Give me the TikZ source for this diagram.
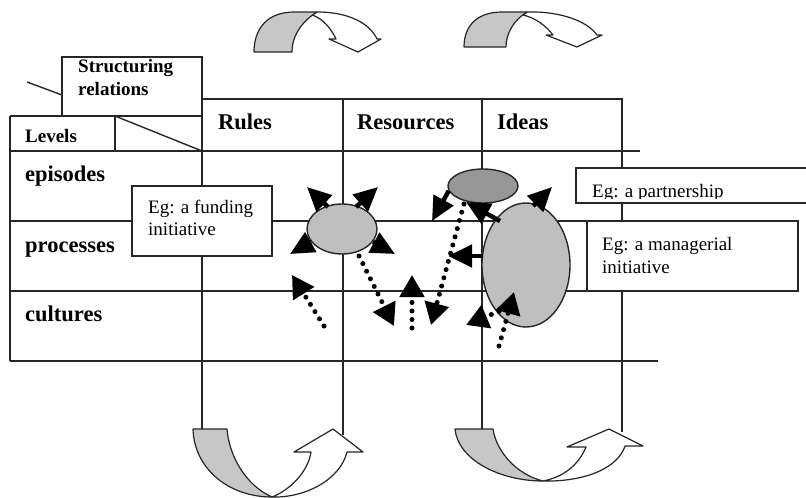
\documentclass[tikz,border=0pt]{standalone}
\usepackage{fontspec}
\setmainfont{Liberation Serif}
\usetikzlibrary{arrows.meta,shapes.geometric}

\begin{document}
\begin{tikzpicture}[x=1pt,y=-1pt,
  grid/.style={line width=1.4pt, draw=black!85},
  hdr/.style={font=\fontsize{22.5}{27}\selectfont\bfseries, anchor=base west, inner sep=0pt},
  lbl/.style={font=\fontsize{19}{23}\selectfont\bfseries, anchor=base west, inner sep=0pt},
  egtext/.style={font=\fontsize{19}{23}\selectfont, anchor=base west, inner sep=0pt},
  egbox/.style={draw=black!85, line width=1.4pt, fill=white, rectangle, inner sep=0pt},
  blob/.style={ellipse, draw=black!85, line width=1.4pt, inner sep=0pt},
  push/.style={line width=4.5pt, -{Triangle[length=24pt,width=22pt]}},
  drift/.style={line width=5pt, dash pattern=on 0pt off 8.5pt, line cap=round,
                -{Triangle[length=22pt,width=24pt]}},
  backband/.style={draw=black!85, line width=1.2pt, fill=black!22, line join=round},
  frontband/.style={draw=black!85, line width=1.2pt, fill=white, line join=round},
]
\useasboundingbox (0,0) rectangle (806,498);
\clip (0,0) rectangle (806,498);

% ---- table frame ----
\draw[grid] (27,82) -- (62,95);
\draw[grid] (62,116) -- (62,57) -- (202,57) -- (202,429);
\draw[grid] (10,116) -- (202,116);
\draw[grid] (10,116) -- (10,361);
\draw[grid] (115,116) -- (115,151);
\draw[grid] (115,116) -- (202,151);
\draw[grid] (202,99) -- (622,99) -- (622,432);
\draw[grid] (343,99) -- (343,435);
\draw[grid] (482,99) -- (482,429);
\draw[grid] (10,151) -- (640,151);
\draw[grid] (10,221) -- (640,221);
\draw[grid] (10,291) -- (640,291);
\draw[grid] (10,361) -- (658,361);

% ---- curved arrows above the columns ----
\draw[frontband] (317,12) .. controls (350,12) and (370,24) .. (377,39) -- (381,39)
  -- (358,52) -- (329,39) -- (336,39) .. controls (331,28) and (322,18) .. (312,15) -- cycle;
\draw[backband] (254,52) .. controls (254,28) and (268,12) .. (294,12) -- (317,12)
  .. controls (304,20) and (292,34) .. (292,52) -- cycle;

\draw[frontband] (527,12) .. controls (562,11) and (588,22) .. (597,35) -- (602,35)
  -- (577,47) -- (546,35) -- (553,35) .. controls (546,26) and (536,18) .. (523,15) -- cycle;
\draw[backband] (464,47) .. controls (464,25) and (478,12) .. (502,12) -- (527,12)
  .. controls (514,20) and (506,33) .. (506,47) -- cycle;

% ---- curved arrows below the columns ----
\draw[backband] (193,429) -- (227,429) .. controls (229,455) and (245,485) .. (272,497)
  .. controls (228,497) and (194,468) .. (193,429) -- cycle;
\draw[frontband] (272,497) .. controls (305,498) and (340,480) .. (347,452) -- (363,452)
  -- (333,429) -- (294,452) -- (311,452) .. controls (308,472) and (290,490) .. (272,497) -- cycle;

\draw[backband] (455,429) -- (493,429) .. controls (496,450) and (515,474) .. (543,481)
  .. controls (500,481) and (458,460) .. (455,429) -- cycle;
\draw[frontband] (543,481) .. controls (585,482) and (618,468) .. (625,446) -- (643,446)
  -- (609,429) -- (567,447) -- (586,447) .. controls (578,466) and (563,477) .. (543,481) -- cycle;

% ---- ellipses ----
\node[blob, fill=black!25, minimum width=70pt, minimum height=50pt] (eRules) at (342,229) {};
\node[blob, fill=black!41, minimum width=70pt, minimum height=34pt] (eLink) at (483,186) {};
\node[blob, fill=black!25, minimum width=88pt, minimum height=124pt] (eIdeas) at (526,265) {};

% ---- example boxes ----
\node[egbox, minimum width=140pt, minimum height=70pt] (bFund) at (202,221) {};
\node[egbox, minimum width=240pt, minimum height=35pt] (bPart) at (696,185.5) {};
\node[egbox, minimum width=211pt, minimum height=70pt] (bMgr) at (692.5,256) {};

% ---- labels ----
\node[lbl] (tStr1) at (78,72) {Structuring};
\node[lbl] (tStr2) at (78,95) {relations};
\node[lbl] (tLev) at (25,142) {Levels};
\node[hdr] (tRules) at (218,129) {Rules};
\node[hdr] (tRes) at (357,129) {Resources};
\node[hdr] (tIdeas) at (497,129) {Ideas};
\node[hdr] (tEpi) at (25,181) {episodes};
\node[hdr] (tProc) at (25,252) {processes};
\node[hdr] (tCult) at (25,321) {cultures};
\node[egtext] (tFund1) at (148,213) {Eg: a funding};
\node[egtext] (tFund2) at (148,235) {initiative};
\node[egtext] (tMgr1) at (602,250) {Eg: a managerial};
\node[egtext] (tMgr2) at (602,273) {initiative};
\begin{scope}
  \clip (576,168) rectangle (806,198.5);
  \node[egtext] (tPart) at (592,197) {Eg: a partnership};
\end{scope}

% ---- free ends of the connectors ----
\coordinate (rNW) at (307,187);
\coordinate (rNE) at (378,187);
\coordinate (rSW) at (290,254);
\coordinate (rSE) at (395,254);
\coordinate (lDown) at (432,221);
\coordinate (lUnder) at (466,202);
\coordinate (iLeft) at (448,256);
\coordinate (iUp) at (552,187);
\coordinate (d1s) at (324,326);
\coordinate (d1t) at (292,275);
\coordinate (d2t) at (394,326);
\coordinate (d3s) at (412,328);
\coordinate (d3t) at (412,275);
\coordinate (d4t) at (431,325);
\coordinate (d5t) at (466,325);
\coordinate (d6s) at (499,346);
\coordinate (d6t) at (514,292);

% ---- solid connectors ----
\draw[push] (328,207) -- (rNW);
\draw[push] (356,207) -- (rNE);
\draw[push] (311,242) -- (rSW);
\draw[push] (373,242) -- (rSE);
\draw[push] (eLink.188) -- (lDown);
\draw[push] (500,221) -- (lUnder);
\draw[push] (eIdeas.west |- iLeft) ++(2,0) -- (iLeft);
\draw[push] (533,206) -- (iUp);

% ---- dotted connectors ----
\draw[drift] (d1s) -- (d1t);
\draw[drift] (359,256) -- (d2t);
\draw[drift] (d3s) -- (d3t);
\draw[drift] (464,204) -- (d4t);
\draw[drift] (507,308) -- (d5t);
\draw[drift] (d6s) -- (d6t);
\end{tikzpicture}
\end{document}
